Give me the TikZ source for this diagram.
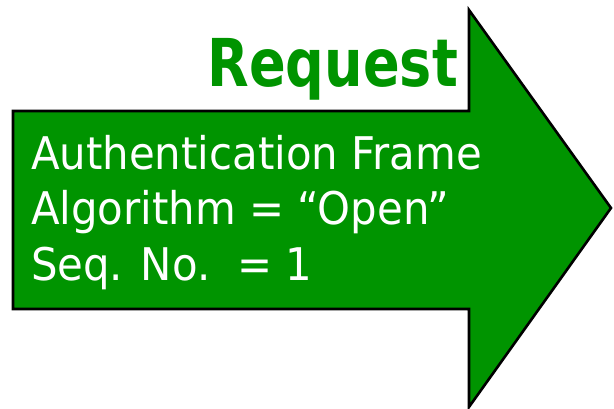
\documentclass[tikz,border=0pt]{standalone}
\usepackage{fontspec}
\usepackage{xcolor}
\usetikzlibrary{calc}
\newfontfamily\framefont[FakeStretch=0.93]{DejaVu Sans}
\newfontfamily\titlefont[FakeStretch=0.82]{DejaVu Sans Bold}
\definecolor{framegreen}{RGB}{0,148,0}

\begin{document}
\begin{tikzpicture}[x=1pt,y=-1pt]
  \tikzstyle{every node}=[inner sep=0pt,outer sep=0pt]
  \tikzstyle{line}=[text=white,anchor=base west,font=\framefont\fontsize{45}{55}\selectfont]
  \useasboundingbox (0,0) rectangle (614,409);

  % the big arrow
  \draw[fill=framegreen,line width=2.6pt,line join=miter]
    (13,111) -- (469,111) -- (469,10) -- (611,208) -- (469,407)
    -- (469,309) -- (13,309) -- cycle;

  \node[text=framegreen,anchor=base east,
        font=\titlefont\fontsize{66}{66}\selectfont]
                         (req) at (458,87) {Request};

  \node[line]            (L1) at (31,170) {Authentication Frame};
  \node[line]            (L2) at ($(L1.base west)+(0,55)$) {Algorithm = “Open”};
  \node[line]            (L3) at ($(L2.base west)+(0,55)$) {Seq. No.\ \ = 1};

\end{tikzpicture}
\end{document}
